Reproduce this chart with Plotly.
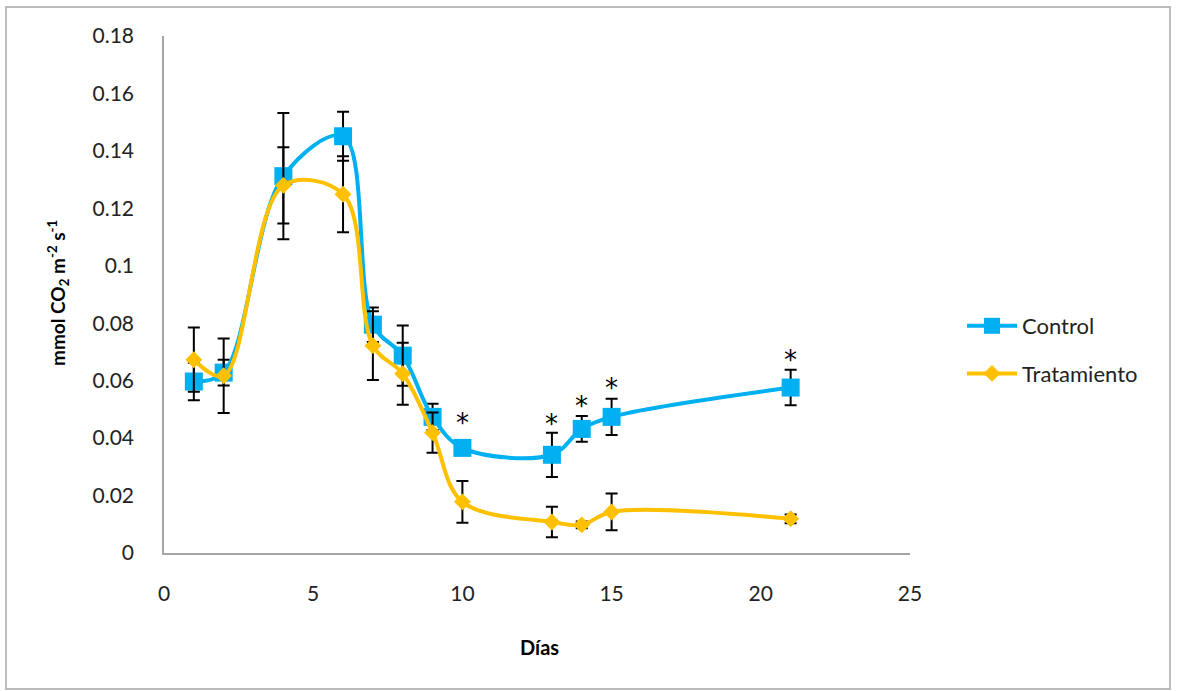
import plotly.graph_objects as go

dias = [1, 2, 4, 6, 7, 8, 9, 10, 13, 14, 15, 21]
control = [0.0597, 0.0628, 0.1312, 0.1451, 0.0795, 0.0687, 0.0474, 0.0366, 0.0342, 0.0432, 0.0474, 0.0576]
control_err = [0.0065, 0.0045, 0.0220, 0.0085, 0.0060, 0.0105, 0.0046, 0.0025, 0.0077, 0.0045, 0.0063, 0.0062]
tratamiento = [0.0673, 0.0617, 0.1280, 0.1249, 0.0722, 0.0624, 0.0419, 0.0178, 0.0108, 0.0098, 0.0143, 0.0119]
tratamiento_err = [0.0112, 0.0130, 0.0133, 0.0132, 0.0120, 0.0108, 0.0070, 0.0073, 0.0053, 0.0012, 0.0064, 0.0015]
ast_dias = [10, 13, 14, 15, 21]
ast_y = [0.0471, 0.0467, 0.0530, 0.0593, 0.0691]

x_ticks = [0, 5, 10, 15, 20, 25]
y_ticks = [0, 0.02, 0.04, 0.06, 0.08, 0.1, 0.12, 0.14, 0.16, 0.18]
y_ticklabels = ["0", "0.02", "0.04", "0.06", "0.08", "0.1", "0.12", "0.14", "0.16", "0.18"]

FONT = "Lato"
W, H = 1177, 691
L, R, T, B = 164, 910, 36, 553

fig = go.Figure()
fig.add_trace(go.Scatter(
    x=dias, y=control, name="Control", mode="lines+markers",
    line=dict(color="#00B0F0", width=4, shape="spline", smoothing=1.0),
    marker=dict(symbol="square", size=18, color="#00B0F0"),
    error_y=dict(type="data", array=control_err, color="black", thickness=2, width=6),
    legendgroup="c",
))
fig.add_trace(go.Scatter(
    x=dias, y=tratamiento, name="Tratamiento", mode="lines+markers",
    line=dict(color="#FFC000", width=4, shape="spline", smoothing=1.0),
    marker=dict(symbol="diamond", size=13, color="#FFC000"),
    error_y=dict(type="data", array=tratamiento_err, color="black", thickness=2, width=6),
    legendgroup="t",
))

for xd, yd in zip(ast_dias, ast_y):
    fig.add_annotation(x=xd, y=yd, xref="x", yref="y", text="*", showarrow=False,
                       font=dict(family="DejaVu Sans", size=26, color="black"),
                       xanchor="center", yanchor="middle", yshift=-5)

pw, ph = R - L, B - T
def px(xp):
    return (xp - L) / pw
def py(yp):
    return (B - yp) / ph

fig.add_annotation(x=px(539), y=py(647), xref="paper", yref="paper", text="<b>Días</b>",
                   xanchor="center", yanchor="middle",
                   showarrow=False, font=dict(family=FONT, size=20, color="black"))
fig.add_annotation(x=px(58), y=py(293), xref="paper", yref="paper",
                   text="<b>mmol CO<sub>2</sub> m<sup>-2</sup> s<sup>-1</sup></b>", textangle=-90,
                   xanchor="center", yanchor="middle",
                   showarrow=False, font=dict(family=FONT, size=19, color="black"))

fig.add_shape(type="rect", xref="paper", yref="paper",
              x0=px(6), x1=px(1170), y0=py(689), y1=py(7),
              line=dict(color="#A6A6A6", width=1.5), fillcolor="rgba(0,0,0,0)", layer="below")

fig.update_layout(
    width=W, height=H,
    margin=dict(l=L, r=W - R, t=T, b=H - B, autoexpand=False),
    paper_bgcolor="white", plot_bgcolor="white",
    font=dict(family=FONT, size=21, color="#222"),
    showlegend=True,
    legend=dict(x=px(962), y=py(305), xanchor="left", yanchor="top",
                traceorder="grouped", tracegroupgap=16, itemwidth=50,
                font=dict(family=FONT, size=22, color="#222"), bgcolor="rgba(0,0,0,0)"),
    xaxis=dict(range=[0, 25], tickvals=x_ticks, showgrid=False, zeroline=False,
               showline=True, linecolor="#A6A6A6", linewidth=1.5, ticks="",
               ticklabelstandoff=21, tickfont=dict(family=FONT, size=21, color="#222")),
    yaxis=dict(range=[0, 0.18], tickvals=y_ticks, ticktext=y_ticklabels, showgrid=False,
               zeroline=False, showline=True, linecolor="#A6A6A6", linewidth=1.5, ticks="",
               ticklabelstandoff=24, tickfont=dict(family=FONT, size=21, color="#222")),
)

fig.write_html("out.html")
